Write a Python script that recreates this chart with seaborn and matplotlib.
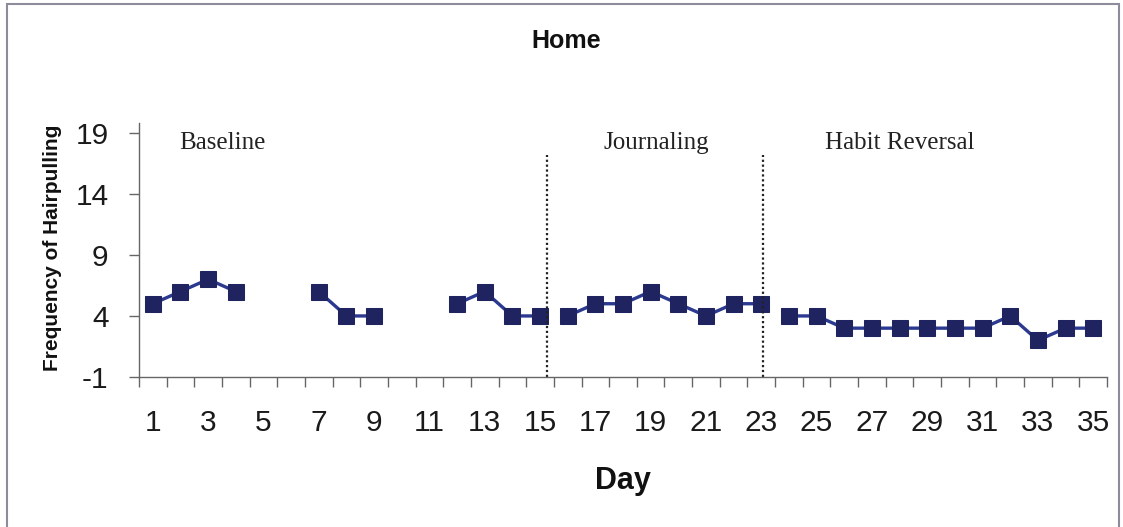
import seaborn as sns
import matplotlib.pyplot as plt
import matplotlib.patches as mpatches
import pandas as pd

days = list(range(1, 36))
freq = [5, 6, 7, 6, None, None, 6, 4, 4, None, None, 5, 6, 4, 4,
        4, 5, 5, 6, 5, 4, 5, 5,
        4, 4, 3, 3, 3, 3, 3, 3, 4, 2, 3, 3]
# connected runs of points (breaks at gaps and phase changes)
segment = [1, 1, 1, 1, 0, 0, 2, 2, 2, 0, 0, 3, 3, 3, 3,
           4, 4, 4, 4, 4, 4, 4, 4,
           5, 5, 5, 5, 5, 5, 5, 5, 5, 5, 5, 5]
phases = ["Baseline", "Journaling", "Habit Reversal"]
phase_label_x = [1.97, 17.3, 25.3]
phase_lines = [15.25, 23.07]

df = pd.DataFrame({"Day": days, "Freq": freq, "segment": segment})
df = df.dropna()

sns.set_style("white")
plt.rcParams['font.family'] = ['Liberation Sans', 'DejaVu Sans']
plt.rcParams['axes.unicode_minus'] = False

fig = plt.figure(figsize=(11.23, 5.27), dpi=100)
ax = fig.add_axes([139 / 1123, 1 - 377 / 527, (1107 - 139) / 1123, (377 - 123) / 527])

sns.lineplot(data=df, x="Day", y="Freq", units="segment", estimator=None,
             color="#2b3990", lw=2.4, marker="s", markersize=11.5,
             markerfacecolor="#1f2460", markeredgecolor="#1f2460", ax=ax)

ax.vlines(phase_lines, -1, 17.2, colors="#222222", linestyles=(0, (1, 1.2)), lw=1.6)
for lab, lx in zip(phases, phase_label_x):
    ax.text(lx, 18.2, lab, family="Liberation Serif", fontsize=18,
            ha="left", va="center", color="#222222")

ax.set_xlim(0.5, 35.5)
ax.set_ylim(-1, 19.8)
ax.set_xticks(range(1, 36, 2))
ax.set_xticks([d + 0.5 for d in range(0, 36)], minor=True)
ax.set_yticks([-1, 4, 9, 14, 19])
ax.tick_params(axis="x", which="major", length=0, pad=23, labelsize=21.5, colors="#1a1a1a")
ax.tick_params(axis="x", which="minor", length=7, width=1, color="#666666", direction="out")
ax.tick_params(axis="y", length=7, width=1, color="#666666", direction="out",
               pad=15, labelsize=21.5, labelcolor="#1a1a1a")
ax.yaxis.set_ticks_position("left")
ax.xaxis.set_ticks_position("bottom")

for s in ["top", "right"]:
    ax.spines[s].set_visible(False)
for s in ["left", "bottom"]:
    ax.spines[s].set_color("#666666")
    ax.spines[s].set_linewidth(1)

ax.set_xlabel("")
ax.set_ylabel("")
fig.text(623 / 1123, 1 - 481 / 527, "Day", fontsize=22, fontweight="bold",
         ha="center", va="center", color="#111111")
fig.text(53 / 1123, 1 - 248 / 527, "Frequency of Hairpulling", fontsize=15,
         fontweight="bold", rotation=90, ha="center", va="center", color="#111111")
fig.text(566 / 1123, 1 - 41 / 527, "Home", fontsize=18, fontweight="bold",
         ha="center", va="center", color="#111111")

# outer frame around the whole chart
fig.patches.append(mpatches.Rectangle((7 / 1123, -0.02), 1112 / 1123, 1 - 4 / 527 + 0.02,
                                      transform=fig.transFigure, fill=False,
                                      edgecolor="#8c8c9a", lw=1.5))

fig.savefig("out.png", dpi=100)
